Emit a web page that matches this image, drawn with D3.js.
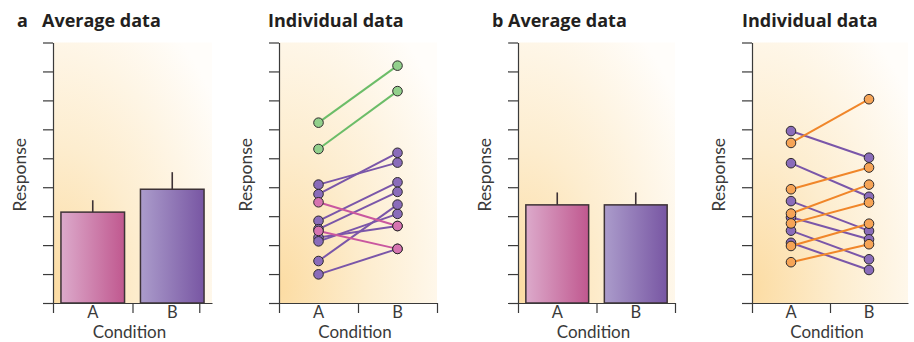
<!DOCTYPE html>
<html>
<head>
<meta charset="utf-8">
<script src="https://cdn.jsdelivr.net/npm/d3@7"></script>
<style>
  body { margin: 0; background: #fff; }
  svg { display: block; font-family: "Open Sans", sans-serif; }
  .title { font-weight: 700; font-size: 18px; fill: #231f20; }
  .axis-label { font-family: Lato, sans-serif; font-size: 17.5px; fill: #3a3a3a; }
  .x-label { font-size: 17px; }
  .axis path, .axis line { stroke: #3a3a3a; stroke-width: 1.2; }
  .cat text { font-family: Lato, sans-serif; font-size: 16.5px; fill: #3a3a3a; }
</style>
</head>
<body>
<svg id="chart" width="914" height="342"></svg>
<script>
const categories = ["A", "B"];
const yTickValues = [0, 1, 2, 3, 4, 5, 6, 7, 8, 9];

// panel a, average data
const meansA = [3.14, 3.93];
const errorsA = [0.41, 0.59];
// panel b, average data
const meansB = [3.39, 3.39];
const errorsB = [0.43, 0.43];

// individual data, each entry = [condition A, condition B]
const subjectsAGreen = [[6.23, 8.2], [5.32, 7.32]];
const subjectsAPurple = [
  [4.09, 4.85], [3.76, 5.19], [2.84, 4.17], [2.55, 3.84],
  [2.26, 2.66], [2.13, 3.08], [1.45, 3.4], [0.99, 1.87]
];
const subjectsAPink = [[3.48, 2.66], [2.49, 1.87]];

const subjectsBPurple = [
  [5.94, 5.02], [4.83, 3.67], [3.52, 2.49],
  [2.96, 2.2], [2.5, 1.51], [2.08, 1.14]
];
const subjectsBOrange = [
  [5.53, 7.04], [3.93, 4.68], [3.09, 4.09],
  [2.75, 3.47], [1.97, 2.74], [1.41, 2.03]
];

const colours = {
  green: { line: "#6cbd68", fill: "#92d08c" },
  purple: { line: "#7a56a9", fill: "#8a6cba" },
  pink: { line: "#c9579f", fill: "#d674b1" },
  orange: { line: "#f0862a", fill: "#f6a456" }
};

const plotTop = 42.5;
const plotBottom = 303;

const panels = [
  { kind: "avg", left: 53, right: 212, letter: "a", letterX: 17, titleX: 42,
    title: "Average data", means: meansA, errors: errorsA, edges: [0, 1, 1.84] },
  { kind: "ind", left: 279, right: 437, titleX: 268, title: "Individual data",
    groups: [["green", subjectsAGreen], ["purple", subjectsAPurple], ["pink", subjectsAPink]],
    edges: [0, 1, 2] },
  { kind: "avg", left: 518, right: 675, letter: "b", letterX: 492, titleX: 508,
    title: "Average data", means: meansB, errors: errorsB, edges: [0, 1, 2] },
  { kind: "ind", left: 752, right: 908, titleX: 742, title: "Individual data",
    groups: [["purple", subjectsBPurple], ["orange", subjectsBOrange]],
    edges: [0, 1] }
];

const svg = d3.select("#chart");
const defs = svg.append("defs");

const bg = defs.append("radialGradient")
  .attr("id", "bg").attr("cx", 0).attr("cy", 0.95).attr("r", 1.25)
  .attr("fx", 0).attr("fy", 0.95);
bg.append("stop").attr("offset", "0%").attr("stop-color", "#fcdca3");
bg.append("stop").attr("offset", "45%").attr("stop-color", "#fdedcf");
bg.append("stop").attr("offset", "100%").attr("stop-color", "#fffdfa");

const barGradient = (id, from, to) => {
  const g = defs.append("linearGradient").attr("id", id)
    .attr("x1", 0).attr("x2", 1).attr("y1", 0).attr("y2", 0);
  g.append("stop").attr("offset", "0%").attr("stop-color", from);
  g.append("stop").attr("offset", "100%").attr("stop-color", to);
};
barGradient("barA", "#dcaacb", "#c0588f");
barGradient("barB", "#ab9ccb", "#7856a3");
const barFills = ["url(#barA)", "url(#barB)"];

const yScale = d3.scaleLinear().domain([0, 9]).range([plotBottom, plotTop]);

const drawPanel = p => {
  const g = svg.append("g");
  const xScale = d3.scaleBand()
    .domain(categories)
    .range([p.left, p.right])
    .paddingInner(0.2)
    .paddingOuter(0.1);
  const xEdge = d3.scaleLinear().domain([0, 2]).range([p.left, p.right]);

  g.append("rect")
    .attr("x", p.left).attr("y", plotTop)
    .attr("width", p.right - p.left).attr("height", plotBottom - plotTop)
    .attr("fill", "url(#bg)");

  if (p.letter) {
    g.append("text").attr("class", "title")
      .attr("x", p.letterX).attr("y", 27).text(p.letter);
  }
  g.append("text").attr("class", "title")
    .attr("x", p.titleX).attr("y", 27).text(p.title);

  const cx = c => xScale(c) + xScale.bandwidth() / 2;

  if (p.kind === "avg") {
    g.selectAll(".err").data(p.means).enter().append("line")
      .attr("x1", (d, i) => cx(categories[i]))
      .attr("x2", (d, i) => cx(categories[i]))
      .attr("y1", d => yScale(d))
      .attr("y2", (d, i) => yScale(d + p.errors[i]))
      .attr("stroke", "#3d3236").attr("stroke-width", 1.6);

    g.selectAll(".bar").data(p.means).enter().append("rect")
      .attr("x", (d, i) => xScale(categories[i]))
      .attr("y", d => yScale(d))
      .attr("width", xScale.bandwidth())
      .attr("height", d => yScale(0) - yScale(d))
      .attr("fill", (d, i) => barFills[i])
      .attr("stroke", "#3d3236").attr("stroke-width", 1.5);
  } else {
    p.groups.forEach(([name, rows]) => {
      g.selectAll(null).data(rows).enter().append("line")
        .attr("x1", cx("A")).attr("x2", cx("B"))
        .attr("y1", d => yScale(d[0])).attr("y2", d => yScale(d[1]))
        .attr("stroke", colours[name].line).attr("stroke-width", 2);
    });
    p.groups.forEach(([name, rows]) => {
      const pts = rows.flatMap(r => r.map((v, i) => ({ c: categories[i], v })));
      g.selectAll(null).data(pts).enter().append("circle")
        .attr("cx", d => cx(d.c)).attr("cy", d => yScale(d.v))
        .attr("r", 4.8)
        .attr("fill", colours[name].fill)
        .attr("stroke", "#2e2a2c").attr("stroke-width", 1);
    });
  }

  g.append("g").attr("class", "axis")
    .attr("transform", `translate(${p.left},0)`)
    .call(d3.axisLeft(yScale).tickValues(yTickValues).tickSize(10)
      .tickSizeOuter(0).tickFormat(""));

  g.append("g").attr("class", "axis")
    .attr("transform", `translate(0,${plotBottom})`)
    .call(d3.axisBottom(xEdge).tickValues(p.edges).tickSize(10)
      .tickSizeOuter(0).tickFormat(""));

  g.append("g").attr("class", "cat")
    .attr("transform", `translate(0,${plotBottom})`)
    .call(d3.axisBottom(xScale).tickSize(0).tickPadding(3))
    .call(a => a.select(".domain").remove());

  g.append("text").attr("class", "axis-label x-label")
    .attr("text-anchor", "middle")
    .attr("x", (p.left + p.right) / 2 - 3).attr("y", 338)
    .text("Condition");

  g.append("text").attr("class", "axis-label")
    .attr("text-anchor", "middle")
    .attr("transform", `translate(${p.left - 27},${(plotTop + plotBottom) / 2 + 2}) rotate(-90)`)
    .text("Response");
};

panels.forEach(drawPanel);
</script>
</body>
</html>
